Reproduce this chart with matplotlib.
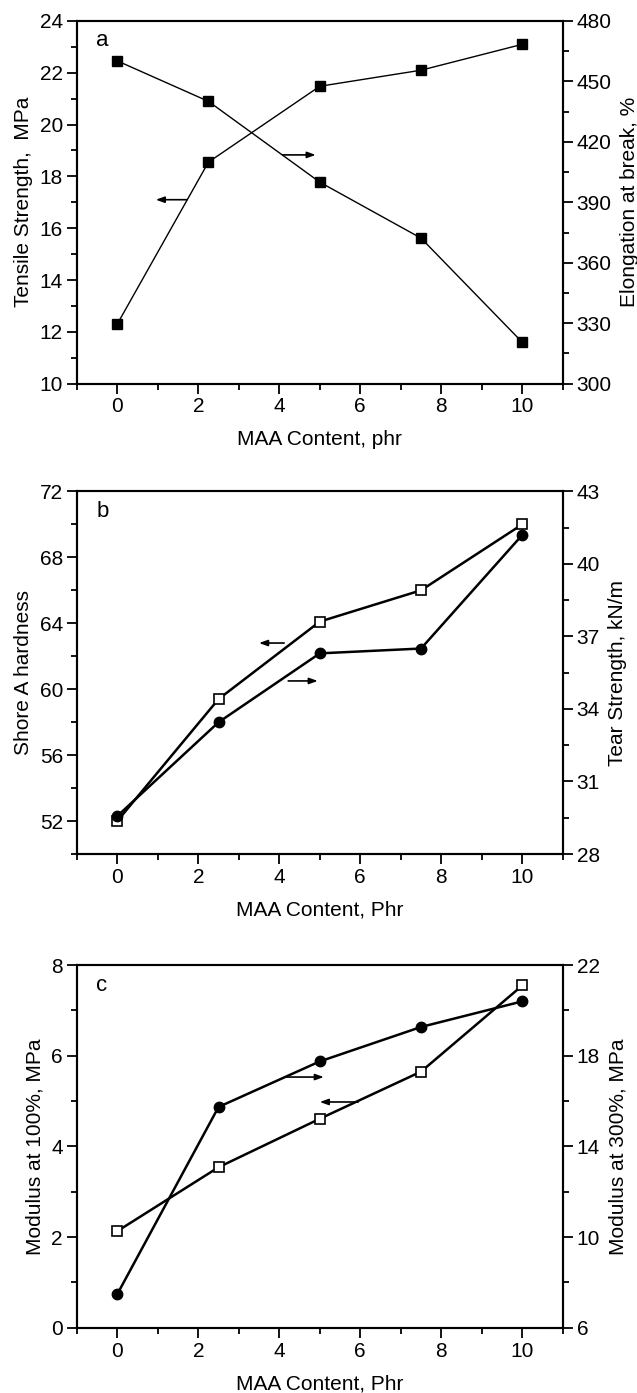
import matplotlib
matplotlib.use("Agg")
import matplotlib.pyplot as plt
from matplotlib.ticker import MultipleLocator

plt.rcParams['font.family'] = ['Liberation Sans', 'DejaVu Sans']

# panel a
maa_a = [0, 2.25, 5, 7.5, 10]
tensile = [12.3, 18.55, 21.48, 22.1, 23.1]
elongation = [460.2, 440.1, 400.0, 372.2, 320.5]

# panel b
maa_b = [0, 2.5, 5, 7.5, 10]
shore_a = [52.0, 59.4, 64.1, 66.0, 70.0]
tear = [29.57, 33.45, 36.3, 36.5, 41.2]

# panel c
maa_c = [0, 2.5, 5, 7.5, 10]
mod100 = [2.13, 3.54, 4.61, 5.65, 7.55]
mod300 = [7.48, 15.74, 17.75, 19.27, 20.4]

W, H = 637, 1393
FS = 15
fig = plt.figure(figsize=(W / 100, H / 100), dpi=100)
LEFT, WIDTH, HEIGHT = 76.8 / W, 486 / W, 362.6 / H


def style(ax, right=False):
    for s in ax.spines.values():
        s.set_linewidth(1.5)
    ax.tick_params(which="major", direction="out", length=7, width=1.3, labelsize=FS, pad=3)
    ax.tick_params(which="minor", direction="out", length=4, width=1.3)
    if right:
        ax.tick_params(which="both", left=False, right=True)


def arrow(ax, x0, x1, y):
    ax.annotate("", xy=(x1, y), xytext=(x0, y),
                arrowprops=dict(arrowstyle="-|>,head_length=0.5,head_width=0.18",
                                color="black", lw=1.2, shrinkA=0, shrinkB=0))


def ticks(lo, hi, step):
    out, v = [], lo
    while v <= hi + 1e-9:
        out.append(round(v, 6))
        v += step
    return out


def panel(bottom_px, letter, xlabel, ylim, yfirst, ystep, y2lim, y2step, ylabel, y2label):
    ax = fig.add_axes([LEFT, 1 - bottom_px / H, WIDTH, HEIGHT])
    ax2 = ax.twinx()
    ax.set_xlim(-1, 11)
    ax.xaxis.set_major_locator(MultipleLocator(2))
    ax.xaxis.set_minor_locator(MultipleLocator(1))
    ax.set_ylim(*ylim)
    ax.set_yticks(ticks(yfirst, ylim[1], ystep))
    ax.set_yticks(ticks(ylim[0], ylim[1], ystep / 2), minor=True)
    ax2.set_ylim(*y2lim)
    ax2.set_yticks(ticks(y2lim[0], y2lim[1], y2step))
    ax2.set_yticks(ticks(y2lim[0], y2lim[1], y2step / 2), minor=True)
    style(ax)
    style(ax2, right=True)
    ax.tick_params(axis="x", which="both", top=False)
    ax.set_xlabel(xlabel, fontsize=FS, labelpad=10)
    ax.set_ylabel(ylabel, fontsize=FS, labelpad=5)
    ax2.set_ylabel(y2label, fontsize=FS, labelpad=6)
    ax.text(0.04, 0.945, letter, transform=ax.transAxes, fontsize=FS + 1, ha="left", va="center")
    return ax, ax2


# ---- a ----
ax, ax2 = panel(383.6, "a", "MAA Content, phr", (10, 24), 10, 2, (300, 480), 30,
                "Tensile Strength,  MPa", "Elongation at break, %")
ax.plot(maa_a, tensile, color="black", lw=1.0, marker="s", ms=7, mfc="black", mec="black")
ax2.plot(maa_a, elongation, color="black", lw=1.0, marker="s", ms=7, mfc="black", mec="black")
arrow(ax, 4.08, 4.9, 18.83)
arrow(ax, 1.72, 0.95, 17.1)

# ---- b ----
ax, ax2 = panel(854.0, "b", "MAA Content, Phr", (50, 72), 52, 4, (28, 43), 3,
                "Shore A hardness", "Tear Strength, kN/m")
ax.plot(maa_b, shore_a, color="black", lw=1.8, marker="s", ms=6.5, mfc="white", mec="black", mew=1.2)
ax2.plot(maa_b, tear, color="black", lw=1.8, marker="o", ms=7.5, mfc="black", mec="black")
arrow(ax, 4.12, 3.5, 62.8)
arrow(ax, 4.22, 4.95, 60.5)

# ---- c ----
ax, ax2 = panel(1327.7, "c", "MAA Content, Phr", (0, 8), 0, 2, (6, 22), 4,
                "Modulus at 100%, MPa", "Modulus at 300%, MPa")
ax.plot(maa_c, mod100, color="black", lw=1.8, marker="s", ms=6.5, mfc="white", mec="black", mew=1.2)
ax2.plot(maa_c, mod300, color="black", lw=1.8, marker="o", ms=7.5, mfc="black", mec="black")
arrow(ax, 4.18, 5.1, 5.53)
arrow(ax, 5.95, 5.0, 4.98)

fig.savefig("out.png", dpi=100)
plt.close(fig)
